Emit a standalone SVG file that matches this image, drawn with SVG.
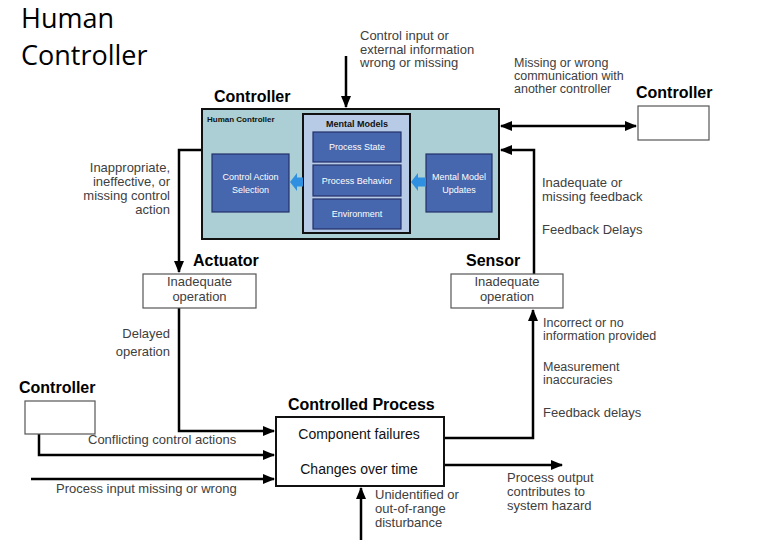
<svg xmlns="http://www.w3.org/2000/svg" width="770" height="556" viewBox="0 0 770 556">
<style>
.lbl{font-family:"Liberation Sans",Arial,sans-serif;font-size:13px;fill:#404040}
.sm{font-size:12.5px}
.ttl{font-family:"Liberation Sans",Arial,sans-serif;font-size:16px;font-weight:bold;fill:#000}
.box{fill:#fff;stroke:#555;stroke-width:1.2}
.blue{fill:#4666ad;stroke:#23306a;stroke-width:1.2}
.wt{font-family:"Liberation Sans",Arial,sans-serif;font-size:9px;fill:#fff;text-anchor:middle}
.ln{fill:none;stroke:#000;stroke-width:2.5}
</style>
<defs>
<marker id="ah" markerUnits="userSpaceOnUse" markerWidth="12" markerHeight="10" refX="11" refY="5" orient="auto-start-reverse">
<path d="M0,0 L12,5 L0,10 z" fill="#000"/>
</marker>
<marker id="ahs" markerUnits="userSpaceOnUse" markerWidth="8" markerHeight="8" refX="7" refY="4" orient="auto">
<path d="M0,0 L8,4 L0,8 z" fill="#000"/>
</marker>
</defs>
<rect width="770" height="556" fill="#fff"/>

<text x="21" y="28" font-family="'Open Sans',sans-serif" font-size="27" fill="#000">Human</text>
<text x="21" y="65" font-family="'Open Sans',sans-serif" font-size="27" fill="#000">Controller</text>

<g id="connectors">
<line class="ln" x1="346" y1="56" x2="346" y2="107" marker-end="url(#ah)"/>
<line class="ln" x1="501" y1="126" x2="636" y2="126" marker-start="url(#ah)" marker-end="url(#ah)"/>
<path class="ln" d="M534,274 V150 H501" marker-end="url(#ah)"/>
<path d="M499,182 H493" stroke="#000" stroke-width="1.5" marker-end="url(#ahs)"/>
<line x1="202" y1="182" x2="212" y2="182" stroke="#000" stroke-width="1.5"/>
<path class="ln" d="M202,150 H179 V272" marker-end="url(#ah)"/>
<path class="ln" d="M179,308 V431 H274" marker-end="url(#ah)"/>
<path class="ln" d="M39,434 V455 H274" marker-end="url(#ah)"/>
<path class="ln" d="M31,479 H274" marker-end="url(#ah)"/>
<path class="ln" d="M444,438 H533 V310" marker-end="url(#ah)"/>
<path class="ln" d="M444,465 H562" marker-end="url(#ah)"/>
<path class="ln" d="M361,540 V488" marker-end="url(#ah)"/>
</g>

<g id="controller">
<text class="ttl" x="214" y="102">Controller</text>
<rect x="202" y="109" width="297" height="130" fill="#abcfd4" stroke="#111" stroke-width="2"/>
<text x="207" y="122" font-family="'Liberation Sans',Arial,sans-serif" font-size="8" font-weight="bold" fill="#111">Human Controller</text>
</g>

<g id="mental-models">
<rect x="303" y="114" width="107" height="119" fill="#b7cbe6" stroke="#111" stroke-width="2"/>
<text x="357" y="127" text-anchor="middle" font-family="'Liberation Sans',Arial,sans-serif" font-size="9" font-weight="bold" fill="#111">Mental Models</text>
</g>
<g id="process-state">
<rect class="blue" x="313" y="132" width="88" height="30"/>
<text class="wt" x="357" y="150">Process State</text>
</g>
<g id="process-behavior">
<rect class="blue" x="313" y="165" width="88" height="31"/>
<text class="wt" x="357" y="184">Process Behavior</text>
</g>
<g id="environment">
<rect class="blue" x="313" y="199" width="88" height="30"/>
<text class="wt" x="357" y="217">Environment</text>
</g>
<g id="control-action-selection">
<rect class="blue" x="212" y="154" width="77" height="58"/>
<text class="wt" x="250.5" y="180">Control Action</text>
<text class="wt" x="250.5" y="193">Selection</text>
</g>
<g id="mental-model-updates">
<rect class="blue" x="426" y="154" width="66" height="58"/>
<text class="wt" x="459" y="180">Mental Model</text>
<text class="wt" x="459" y="193">Updates</text>
</g>
<g id="blue-arrows" fill="#2f8fe0">
<path d="M290,182 L297,173 L297,177.5 L303,177.5 L303,186.5 L297,186.5 L297,191 z"/>
<path d="M411,182 L418,173 L418,177.5 L426,177.5 L426,186.5 L418,186.5 L418,191 z"/>
</g>

<g id="controller-right">
<text class="ttl" x="636" y="98">Controller</text>
<rect class="box" x="638" y="106" width="71" height="34"/>
</g>

<g id="controller-left">
<text class="ttl" x="19" y="393">Controller</text>
<rect class="box" x="25" y="401" width="70" height="33"/>
</g>

<g id="actuator">
<text class="ttl" x="193" y="266">Actuator</text>
<rect class="box" x="143" y="274" width="113" height="34"/>
<text class="lbl" x="199.5" y="286" text-anchor="middle">Inadequate</text>
<text class="lbl" x="199.5" y="301" text-anchor="middle">operation</text>
</g>

<g id="sensor">
<text class="ttl" x="466" y="266">Sensor</text>
<rect class="box" x="451" y="274" width="112" height="34"/>
<text class="lbl" x="507" y="286" text-anchor="middle">Inadequate</text>
<text class="lbl" x="507" y="301" text-anchor="middle">operation</text>
</g>

<g id="controlled-process">
<text class="ttl" x="288" y="410" font-size="15">Controlled Process</text>
<rect x="276" y="417" width="168" height="69" fill="#fff" stroke="#111" stroke-width="2"/>
<text x="359" y="439" text-anchor="middle" font-family="'Liberation Sans',Arial,sans-serif" font-size="14" fill="#111">Component failures</text>
<text x="359" y="474" text-anchor="middle" font-family="'Liberation Sans',Arial,sans-serif" font-size="14" fill="#111">Changes over time</text>
</g>

<g id="labels">
<text class="lbl" x="360" y="40" font-size="13.5">Control input or</text>
<text class="lbl" x="360" y="53.5" font-size="13.5">external information</text>
<text class="lbl" x="360" y="67" font-size="13.5">wrong or missing</text>
<text class="lbl sm" x="514" y="67">Missing or wrong</text>
<text class="lbl sm" x="514" y="80">communication with</text>
<text class="lbl sm" x="514" y="93">another controller</text>
<text class="lbl" x="170" y="172" text-anchor="end">Inappropriate,</text>
<text class="lbl" x="170" y="186" text-anchor="end">ineffective, or</text>
<text class="lbl" x="170" y="200" text-anchor="end">missing control</text>
<text class="lbl" x="170" y="214" text-anchor="end">action</text>
<text class="lbl" x="542" y="187">Inadequate or</text>
<text class="lbl" x="542" y="201">missing feedback</text>
<text class="lbl" x="542" y="234">Feedback Delays</text>
<text class="lbl" x="170" y="338" text-anchor="end">Delayed</text>
<text class="lbl" x="170" y="356" text-anchor="end">operation</text>
<text class="lbl sm" x="543" y="327">Incorrect or no</text>
<text class="lbl sm" x="543" y="340">information provided</text>
<text class="lbl sm" x="543" y="371">Measurement</text>
<text class="lbl sm" x="543" y="384">inaccuracies</text>
<text class="lbl" x="543" y="417">Feedback delays</text>
<text class="lbl" x="507" y="482">Process output</text>
<text class="lbl" x="507" y="496">contributes to</text>
<text class="lbl" x="507" y="510">system hazard</text>
<text class="lbl" x="375" y="499">Unidentified or</text>
<text class="lbl" x="375" y="513">out-of-range</text>
<text class="lbl" x="375" y="527">disturbance</text>
<text class="lbl" x="88" y="444">Conflicting control actions</text>
<text class="lbl" x="56" y="493">Process input missing or wrong</text>
</g>
</svg>
